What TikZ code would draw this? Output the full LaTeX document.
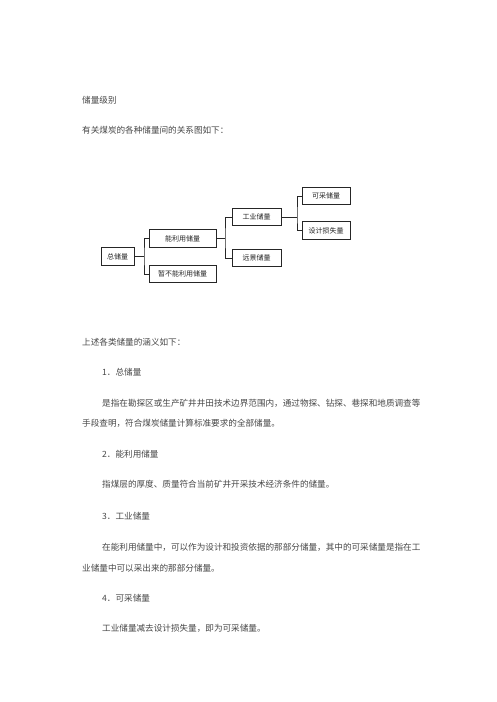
\documentclass[tikz,border=0pt]{standalone}
\usepackage{fontspec}
\setmainfont{Noto Sans CJK SC}
\begin{document}
\begin{tikzpicture}[x=1pt,y=-1pt,
  txt/.style={anchor=west,inner sep=0pt,text=black!72,font=\fontsize{8.6}{10}\selectfont},
  box/.style={draw=black!85,line width=0.7pt,minimum height=17.5pt,inner sep=0pt,font=\fontsize{7}{8}\selectfont,text=black!85},
  conn/.style={draw=black!85,line width=0.7pt}]
\useasboundingbox[fill=white] (0,0) rectangle (496,702);
% header text
\node[txt] (t1) at (82,100) {储量级别};
\node[txt] (t2) at (82,130) {有关煤炭的各种储量间的关系图如下：};
% diagram boxes
\node[box,minimum width=33pt] (root) at (117.5,256.5) {总储量};
\node[box,minimum width=67pt] (use) at (182.5,238.5) {能利用储量};
\node[box,minimum width=67pt] (nouse) at (182.5,274) {暂不能利用储量};
\node[box,minimum width=49pt] (ind) at (256.5,217) {工业储量};
\node[box,minimum width=49pt] (far) at (256.5,258) {远景储量};
\node[box,minimum width=48pt] (mine) at (326,196) {可采储量};
\node[box,minimum width=48pt] (loss) at (326,230.5) {设计损失量};
% junctions
\coordinate (j1) at (144,256.5);
\coordinate (j2) at (225,238.5);
\coordinate (j3) at (297,217);
\draw[conn] (root.east) -- (root.east -| j1);
\draw[conn] (use.west) -| (j1) |- (nouse.west);
\draw[conn] (use.east) -- (use.east -| j2);
\draw[conn] (ind.west) -| (j2) |- (far.west);
\draw[conn] (ind.east) -- (ind.east -| j3);
\draw[conn] (mine.west) -| (j3) |- (loss.west);
% body text
\node[txt] (t3) at (82,342) {上述各类储量的涵义如下：};
\node[txt] (h1) at (102,372) {1．总储量};
\node[txt] (p1a) at (102,403) {是指在勘探区或生产矿井井田技术边界范围内，通过物探、钻探、巷探和地质调查等};
\node[txt] (p1b) at (82,423) {手段查明，符合煤炭储量计算标准要求的全部储量。};
\node[txt] (h2) at (102,454) {2．能利用储量};
\node[txt] (p2) at (102,484) {指煤层的厚度、质量符合当前矿井开采技术经济条件的储量。};
\node[txt] (h3) at (102,516) {3．工业储量};
\node[txt] (p3a) at (102,547) {在能利用储量中，可以作为设计和投资依据的那部分储量，其中的可采储量是指在工};
\node[txt] (p3b) at (82,568) {业储量中可以采出来的那部分储量。};
\node[txt] (h4) at (102,598) {4．可采储量};
\node[txt] (p4) at (102,628) {工业储量减去设计损失量，即为可采储量。};
\end{tikzpicture}
\end{document}
